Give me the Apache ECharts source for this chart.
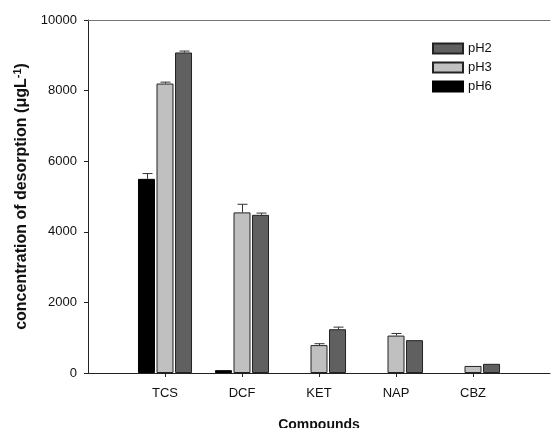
<!DOCTYPE html>
<html>
<head>
<meta charset="utf-8">
<script src="https://cdn.jsdelivr.net/npm/echarts@6/dist/echarts.min.js"></script>
<style>
  html, body { margin: 0; padding: 0; background: #fff; }
  #chart { width: 552px; height: 428px; }
</style>
</head>
<body>
<div id="chart"></div>
<script>
const compounds = ['TCS', 'DCF', 'KET', 'NAP', 'CBZ']
const ph6 = [5500, 80, null, null, null]
const ph3 = [8200, 4550, 790, 1060, 200]
const ph2 = [9080, 4480, 1240, 930, 260]
const ph6Err = [150, 0, 0, 0, 0]
const ph3Err = [40, 230, 40, 60, 0]
const ph2Err = [40, 50, 60, 0, 0]
const yTicks = [0, 2000, 4000, 6000, 8000, 10000]

// pad one empty slot on each side so the axis runs past TCS and CBZ
const axisCats = ['', ...compounds, '']
const pad = arr => [null, ...arr, null]

const font = 'Liberation Sans, Arial, sans-serif'

// error bar drawn above each bar, shifted to that bar's slot in the group
function errSeries(name, values, errs, offset) {
  const data = values.map((v, i) => [i + 1, v == null ? 0 : v, errs[i]])
    .filter(d => d[2] > 0)
  return {
    name: name + ' err',
    type: 'custom',
    z: 5,
    silent: true,
    data,
    renderItem: (params, api) => {
      const top = api.coord([api.value(0), api.value(1)])
      const end = api.coord([api.value(0), api.value(1) + api.value(2)])
      const x = Math.round(top[0] + offset) + 0.5
      const style = { stroke: '#333', lineWidth: 1 }
      return {
        type: 'group',
        children: [
          { type: 'line', shape: { x1: x, y1: top[1], x2: x, y2: end[1] }, style },
          { type: 'line', shape: { x1: x - 5, y1: end[1], x2: x + 5, y2: end[1] }, style }
        ]
      }
    }
  }
}

const chart = echarts.init(document.getElementById('chart'))

chart.setOption({
  animation: false,
  backgroundColor: '#fff',
  textStyle: { fontFamily: font },
  grid: { left: 88, right: 2, top: 20, bottom: 55, outerBoundsMode: 'none' },
  legend: {
    data: ['pH2', 'pH3', 'pH6'],
    orient: 'vertical',
    left: 432,
    top: 42,
    padding: 0,
    itemWidth: 30,
    itemHeight: 10,
    itemGap: 6,
    icon: 'rect',
    textStyle: { fontSize: 13, color: '#111', fontFamily: font }
  },
  xAxis: [
    {
      type: 'category',
      data: axisCats,
      boundaryGap: false,
      position: 'bottom',
      name: 'Compounds',
      nameLocation: 'middle',
      nameGap: 45,
      nameTextStyle: { fontSize: 14, fontWeight: 'bold', color: '#111', fontFamily: font },
      axisLine: { lineStyle: { color: '#222', width: 1 } },
      axisTick: {
        length: 4,
        interval: (i) => i > 0 && i < axisCats.length - 1,
        lineStyle: { color: '#222' }
      },
      axisLabel: { interval: 0, margin: 14, fontSize: 13, color: '#111', fontFamily: font },
      splitLine: { show: false }
    },
    {
      type: 'category',
      data: axisCats,
      boundaryGap: false,
      position: 'top',
      axisLine: { lineStyle: { color: '#777', width: 1 } },
      axisTick: { show: false },
      axisLabel: { show: false }
    }
  ],
  yAxis: {
    type: 'value',
    min: yTicks[0],
    max: yTicks[yTicks.length - 1],
    interval: 2000,
    name: '{a|concentration of desorption (μgL}{s|-1}{a|)}',
    nameLocation: 'middle',
    nameGap: 54,
    nameTextStyle: {
      fontFamily: font,
      rich: {
        a: { fontSize: 16, fontWeight: 'bold', color: '#111', fontFamily: font },
        s: { fontSize: 11, fontWeight: 'bold', color: '#111', fontFamily: font, verticalAlign: 'top', padding: [0, 0, 8, 0] }
      }
    },
    axisLine: { show: true, lineStyle: { color: '#222', width: 1 } },
    axisTick: { show: true, length: 4, lineStyle: { color: '#222' } },
    axisLabel: {
      margin: 11, fontSize: 13, color: '#111', fontFamily: font,
      formatter: v => String(v)
    },
    splitLine: { show: false }
  },
  series: [
    {
      name: 'pH6',
      type: 'bar',
      data: pad(ph6),
      barWidth: 17,
      barGap: '9%',
      itemStyle: { color: '#000', borderColor: '#000', borderWidth: 1 }
    },
    {
      name: 'pH3',
      type: 'bar',
      data: pad(ph3),
      barWidth: 17,
      barGap: '9%',
      itemStyle: { color: '#c0c0c0', borderColor: '#222', borderWidth: 1 }
    },
    {
      name: 'pH2',
      type: 'bar',
      data: pad(ph2),
      barWidth: 17,
      barGap: '9%',
      itemStyle: { color: '#606060', borderColor: '#222', borderWidth: 1 }
    },
    errSeries('pH6', ph6, ph6Err, -18.5),
    errSeries('pH3', ph3, ph3Err, 0),
    errSeries('pH2', ph2, ph2Err, 18.5)
  ]
})
</script>
</body>
</html>
